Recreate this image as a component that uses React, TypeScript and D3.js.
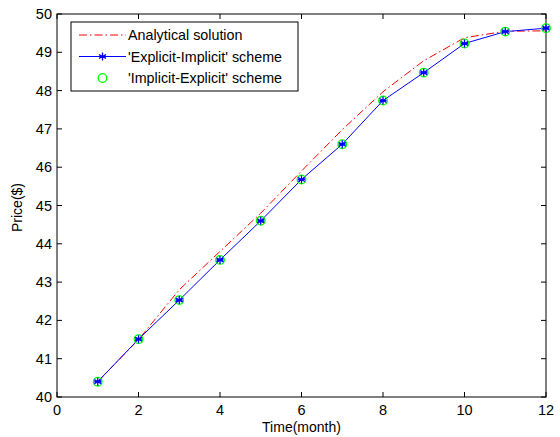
import React, { useEffect } from "react";
import * as d3 from "d3";

const months = [1, 2, 3, 4, 5, 6, 7, 8, 9, 10, 11, 12];
const analytical = [40.4, 41.5, 42.8, 43.8, 44.8, 45.9, 46.98, 47.97, 48.78, 49.38, 49.55, 49.56];
const explicitImplicit = [40.4, 41.51, 42.53, 43.58, 44.6, 45.68, 46.6, 47.74, 48.47, 49.23, 49.54, 49.63];
const implicitExplicit = [40.4, 41.51, 42.53, 43.58, 44.6, 45.68, 46.6, 47.74, 48.47, 49.23, 49.54, 49.63];
const xTicks = [0, 2, 4, 6, 8, 10, 12];
const yTicks = [40, 41, 42, 43, 44, 45, 46, 47, 48, 49, 50];
const legendLabels = ["Analytical solution", "'Explicit-Implicit' scheme", "'Implicit-Explicit' scheme"];

const W = 560;
const H = 437;
const L = 57, R = 546, T = 14, B = 397;
const FONT = "Liberation Sans, Arial, sans-serif";

function Star({ cx, cy, r }: { cx: number; cy: number; r: number }) {
  const d = [0, 60, 120].map((a) => {
    const rad = (a * Math.PI) / 180;
    const dx = r * Math.sin(rad), dy = r * Math.cos(rad);
    return `M${cx - dx},${cy - dy}L${cx + dx},${cy + dy}`;
  }).join("") + `M${cx - r * 0.87},${cy}L${cx + r * 0.87},${cy}`;
  return <path d={d} stroke="#0000ff" strokeWidth={1.3} fill="none" />;
}

export default function App() {
  useEffect(() => {
    document.body.style.margin = "0";
  }, []);
  const x = d3.scaleLinear().domain([0, 12]).range([L, R]);
  const y = d3.scaleLinear().domain([40, 50]).range([B, T]);
  const line = d3.line<number>().x((_, i) => x(months[i])).y((v) => y(v));
  const tl = 5;
  const legX = 71, legY = 22, legW = 227, legH = 69;
  const rows = [35, 56.5, 78];
  return (
    <svg width={W} height={H} style={{ display: "block", background: "#fff" }} fontFamily={FONT}>
      <rect x={0} y={0} width={W} height={H} fill="#fff" />
      {xTicks.map((t) => (
        <g key={"x" + t}>
          <line x1={x(t)} x2={x(t)} y1={B} y2={B - tl} stroke="#000" />
          <line x1={x(t)} x2={x(t)} y1={T} y2={T + tl} stroke="#000" />
          <text x={x(t)} y={B + 18} fontSize={14.5} textAnchor="middle" fill="#000">{t}</text>
        </g>
      ))}
      {yTicks.map((t) => (
        <g key={"y" + t}>
          <line x1={L} x2={L + tl} y1={y(t)} y2={y(t)} stroke="#000" />
          <line x1={R} x2={R - tl} y1={y(t)} y2={y(t)} stroke="#000" />
          <text x={L - 5} y={y(t) + 5} fontSize={14.5} textAnchor="end" fill="#000">{t}</text>
        </g>
      ))}
      <rect x={L} y={T} width={R - L} height={B - T} fill="none" stroke="#000" strokeWidth={1} />
      <path d={line(analytical) || ""} fill="none" stroke="#ff0000" strokeWidth={1} strokeDasharray="8,3,1.5,3" />
      <path d={line(explicitImplicit) || ""} fill="none" stroke="#0000ff" strokeWidth={1} />
      {implicitExplicit.map((v, i) => (
        <circle key={"c" + i} cx={x(months[i])} cy={y(v)} r={4.3} fill="none" stroke="#00ff00" strokeWidth={1.3} />
      ))}
      {explicitImplicit.map((v, i) => (
        <Star key={"s" + i} cx={x(months[i])} cy={y(v)} r={4} />
      ))}
      <text x={(L + R) / 2} y={432} fontSize={14} textAnchor="middle" fill="#000">Time(month)</text>
      <text transform={`translate(22,${(T + B) / 2 + 2}) rotate(-90)`} fontSize={14} textAnchor="middle" fill="#000">Price($)</text>
      <rect x={legX} y={legY} width={legW} height={legH} fill="#fff" stroke="#000" strokeWidth={1} />
      <line x1={79} x2={126} y1={rows[0]} y2={rows[0]} stroke="#ff0000" strokeDasharray="8,3,1.5,3" />
      <line x1={79} x2={126} y1={rows[1]} y2={rows[1]} stroke="#0000ff" />
      <Star cx={102.5} cy={rows[1]} r={4} />
      <circle cx={102.5} cy={rows[2]} r={4.3} fill="none" stroke="#00ff00" strokeWidth={1.3} />
      {legendLabels.map((l, i) => (
        <text key={l} x={128} y={rows[i] + 5} fontSize={14.3} fill="#000">{l}</text>
      ))}
    </svg>
  );
}
